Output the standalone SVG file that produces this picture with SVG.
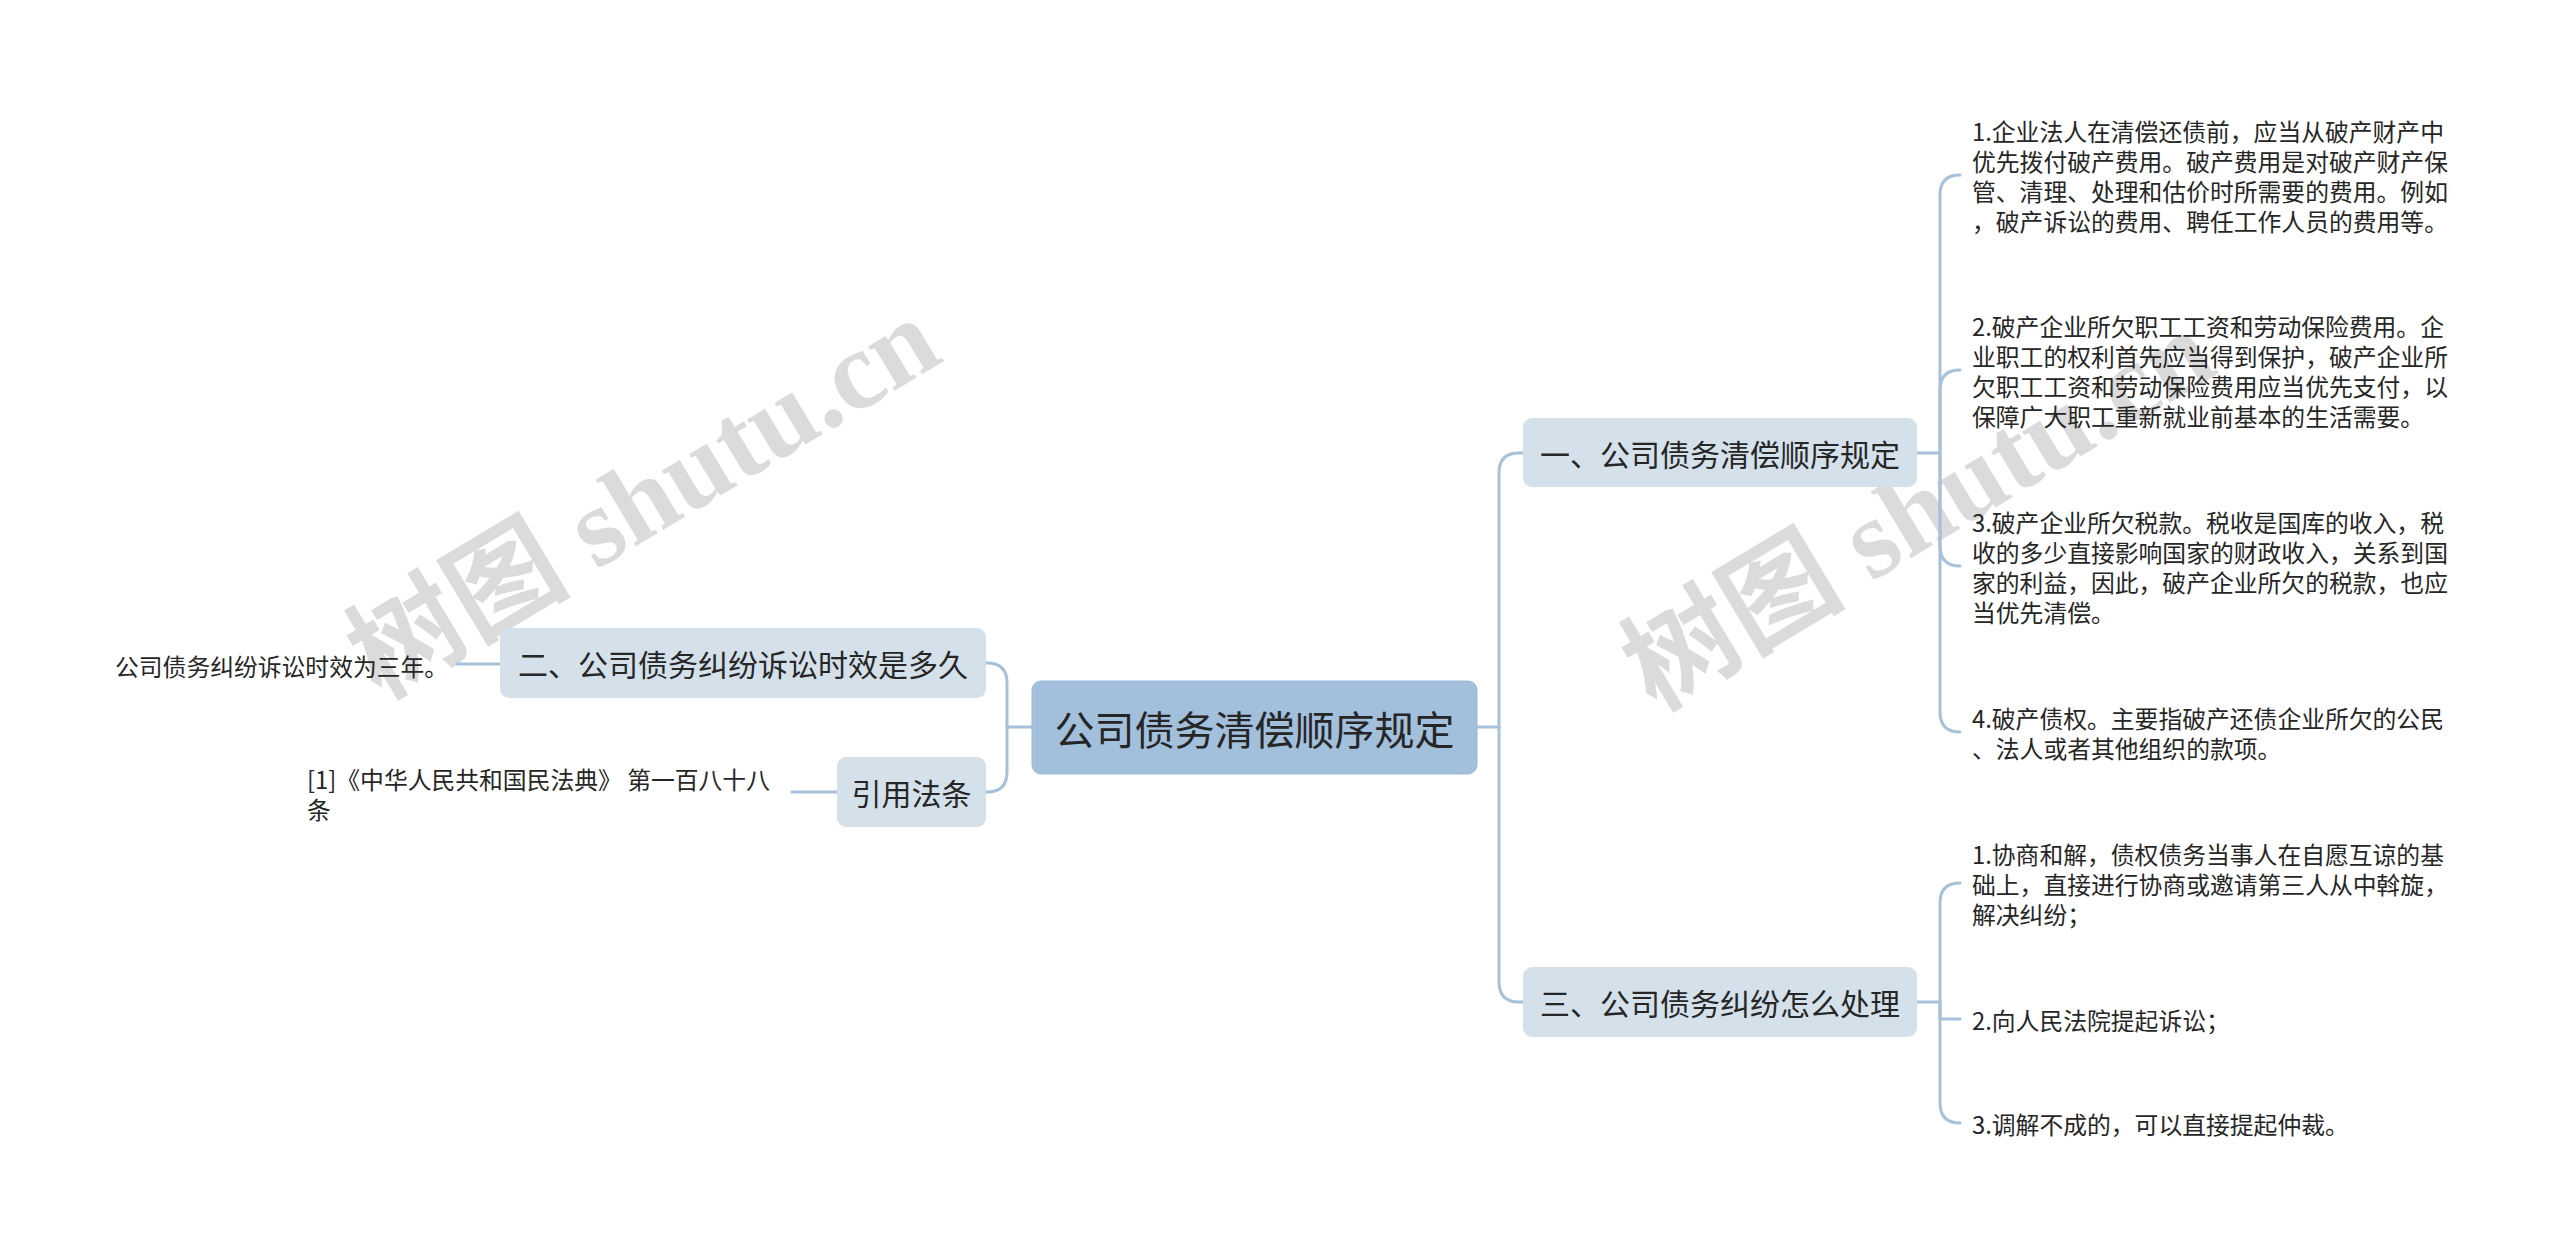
<svg xmlns="http://www.w3.org/2000/svg" width="2560" height="1251" viewBox="0 0 2560 1251">
<style>
.wm{font-family:"Liberation Serif","Noto Sans CJK SC",serif;font-size:112px;font-weight:bold;fill:#cdcdcd;opacity:0.7}
.conn{fill:none;stroke:#a6c1d9;stroke-width:3;stroke-linecap:round}
.root{fill:#a2bfdc;stroke:#9ab8d6;stroke-width:1}
.main{fill:#d4e1eb}
.t{font-family:"Noto Sans CJK SC","Microsoft YaHei",sans-serif;fill:#262626;dominant-baseline:central}
.rt{font-size:40px;text-anchor:middle}
.mt{font-size:30px;text-anchor:middle}
.lt{font-size:23.8px}
</style>
<rect width="2560" height="1251" fill="#ffffff"/>
<g id="watermarks">
<text class="wm" x="380" y="700" transform="rotate(-31 380 700)">树图 shutu.cn</text>
<text class="wm" x="1655" y="712" transform="rotate(-31 1655 712)">树图 shutu.cn</text>
</g>
<g id="connectors">
<path class="conn" d="M1477 727 H1499"/>
<path class="conn" d="M1499 727 V473 Q1499 453 1519 453 H1523"/>
<path class="conn" d="M1499 727 V982 Q1499 1002 1519 1002 H1523"/>
<path class="conn" d="M1032 727 H1007"/>
<path class="conn" d="M1007 727 V683 Q1007 663 987 663 H986"/>
<path class="conn" d="M1007 727 V772 Q1007 792 987 792 H986"/>
<path class="conn" d="M1917 453 H1940"/>
<path class="conn" d="M1940 453 V195 Q1940 175 1960 175"/>
<path class="conn" d="M1940 453 V390 Q1940 370 1960 370"/>
<path class="conn" d="M1940 453 V546 Q1940 566 1960 566"/>
<path class="conn" d="M1940 453 V712 Q1940 732 1960 732"/>
<path class="conn" d="M1917 1002 H1940"/>
<path class="conn" d="M1940 1002 V903 Q1940 883 1960 883"/>
<path class="conn" d="M1940 1002 V1019 Q1940 1019 1960 1019"/>
<path class="conn" d="M1940 1002 V1103 Q1940 1123 1960 1123"/>
<path class="conn" d="M500 664 H457"/>
<path class="conn" d="M837 792 H792"/>
</g>
<g id="root">
<rect class="root" x="1032" y="681" width="445" height="93" rx="9"/>
<text class="t rt" x="1254.5" y="727.5">公司债务清偿顺序规定</text>
</g>
<g id="branch1">
<rect class="main" x="1523" y="418" width="394" height="69" rx="9"/>
<text class="t mt" x="1720" y="453">一、公司债务清偿顺序规定</text>
</g>
<g id="branch2">
<rect class="main" x="500" y="628" width="486" height="70" rx="9"/>
<text class="t mt" x="743" y="663">二、公司债务纠纷诉讼时效是多久</text>
</g>
<g id="branch3">
<rect class="main" x="1523" y="967" width="394" height="70" rx="9"/>
<text class="t mt" x="1720" y="1002">三、公司债务纠纷怎么处理</text>
</g>
<g id="branch4">
<rect class="main" x="837" y="757" width="149" height="70" rx="9"/>
<text class="t mt" x="911.5" y="792">引用法条</text>
</g>
<g id="leaf1-1">
<text class="t lt" x="1972" y="130">1.企业法人在清偿还债前，应当从破产财产中</text>
<text class="t lt" x="1972" y="160">优先拨付破产费用。破产费用是对破产财产保</text>
<text class="t lt" x="1972" y="190">管、清理、处理和估价时所需要的费用。例如</text>
<text class="t lt" x="1972" y="220">，破产诉讼的费用、聘任工作人员的费用等。</text>
</g>
<g id="leaf1-2">
<text class="t lt" x="1972" y="325">2.破产企业所欠职工工资和劳动保险费用。企</text>
<text class="t lt" x="1972" y="355">业职工的权利首先应当得到保护，破产企业所</text>
<text class="t lt" x="1972" y="385">欠职工工资和劳动保险费用应当优先支付，以</text>
<text class="t lt" x="1972" y="415">保障广大职工重新就业前基本的生活需要。</text>
</g>
<g id="leaf1-3">
<text class="t lt" x="1972" y="521">3.破产企业所欠税款。税收是国库的收入，税</text>
<text class="t lt" x="1972" y="551">收的多少直接影响国家的财政收入，关系到国</text>
<text class="t lt" x="1972" y="581">家的利益，因此，破产企业所欠的税款，也应</text>
<text class="t lt" x="1972" y="611">当优先清偿。</text>
</g>
<g id="leaf1-4">
<text class="t lt" x="1972" y="717">4.破产债权。主要指破产还债企业所欠的公民</text>
<text class="t lt" x="1972" y="747">、法人或者其他组织的款项。</text>
</g>
<g id="leaf3-1">
<text class="t lt" x="1972" y="853">1.协商和解，债权债务当事人在自愿互谅的基</text>
<text class="t lt" x="1972" y="883">础上，直接进行协商或邀请第三人从中斡旋，</text>
<text class="t lt" x="1972" y="913">解决纠纷；</text>
</g>
<g id="leaf3-2">
<text class="t lt" x="1972" y="1019">2.向人民法院提起诉讼；</text>
</g>
<g id="leaf3-3">
<text class="t lt" x="1972" y="1123">3.调解不成的，可以直接提起仲裁。</text>
</g>
<g id="leaf2-1">
<text class="t lt" x="115" y="665">公司债务纠纷诉讼时效为三年。</text>
</g>
<g id="leaf4-1">
<text class="t lt" x="307" y="778">[1]《中华人民共和国民法典》 第一百八十八</text>
<text class="t lt" x="307" y="808">条</text>
</g>
</svg>
